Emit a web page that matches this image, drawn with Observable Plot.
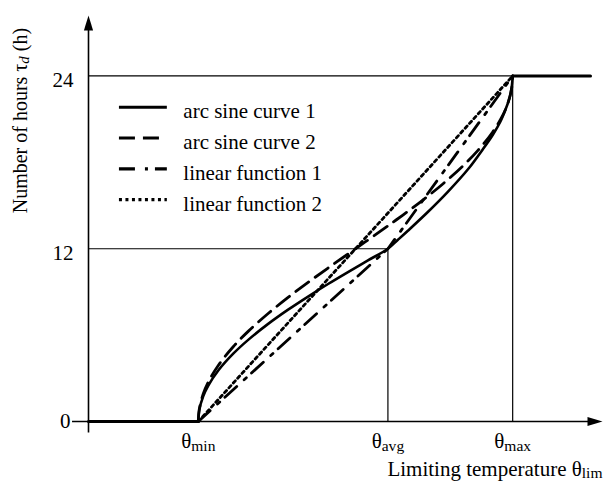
<!DOCTYPE html>
<html><head><meta charset="utf-8">
<script src="https://cdn.jsdelivr.net/npm/d3@7"></script>
<script src="https://cdn.jsdelivr.net/npm/@observablehq/plot@0.6"></script>
<style>
body{margin:0;background:#fff;}
#chart{width:604px;height:481px;}
</style></head><body><div id="chart"></div>
<script>
// ---- categories / tick labels ----
const seriesNames = ["arc sine curve 1", "arc sine curve 2", "linear function 1", "linear function 2"];
const thetaMin = 11, thetaAvg = 30, thetaMax = 42.5;
const xTickValues = [thetaMin, thetaAvg, thetaMax];
const xTickLabels = ["θ_min", "θ_avg", "θ_max"];
const yTickValues = [0, 12, 24];
const yTitle = "Number of hours τ_d (h)";
const xTitle = "Limiting temperature θ_lim";

// ---- series values ----
const arc1X = [11, 11.1, 11.5, 12, 13, 14.5, 16, 18, 20, 22, 24, 26, 28, 30, 31, 32, 34, 36, 38, 39.5, 40.5, 41.25, 41.8, 42.2, 42.4, 42.5];
const arc1T = [0, 0.79, 1.76, 2.49, 3.54, 4.71, 5.67, 6.78, 7.77, 8.68, 9.55, 10.38, 11.19, 12, 12.62, 13.25, 14.55, 15.95, 17.5, 18.9, 19.9, 20.8, 21.7, 22.5, 23.2, 24];
const arc2X = [11, 11.1, 11.5, 12, 13, 14.5, 16, 18, 20, 22, 24, 26.75, 29.5, 31.5, 33.5, 35.5, 37.5, 39, 40.5, 41.5, 42, 42.4, 42.5];
const arc2T = [0, 0.86, 1.93, 2.74, 3.89, 5.19, 6.26, 7.50, 8.62, 9.66, 10.66, 12, 13.34, 14.34, 15.38, 16.50, 17.74, 18.81, 20.11, 21.26, 22.07, 23.14, 24];
const lin1X = [11, 30, 42.5];
const lin1T = [0, 12, 24];
const lin2X = [11, 42.5];
const lin2T = [0, 24];
// common flat parts (below theta_min: 0 h, above theta_max: 24 h)
const flatLowX = [0, 11];
const flatLowT = [0, 0];
const flatHighX = [42.5, 50.3];
const flatHighT = [24, 24];

// ---- build table ----
const seriesX = [arc1X, arc2X, lin1X, lin2X];
const seriesT = [arc1T, arc2T, lin1T, lin2T];
const rows = [];
seriesNames.forEach((name, i) => seriesX[i].forEach((x, j) => rows.push({series: name, x, tau: seriesT[i][j]})));

// ---- styles ----
const dashes = [null, "16,8", "16,10,3,7", "3,3.5"];
const widths = [2.6, 2.8, 2.8, 2.8];
const curves = ["catmull-rom", "catmull-rom", "linear", "linear"];
const legendX1 = 3.1, legendX2 = 7.9, legendTextX = 9.5, legendTop = 21.83, legendStep = 2.14;

// arrowhead symbol (tip at origin, pointing up)
const arrowHead = {draw(ctx) { ctx.moveTo(0, 0); ctx.lineTo(4.6, 15); ctx.lineTo(-4.6, 15); ctx.closePath(); }};

const marks = [];
// thin guide lines
marks.push(Plot.ruleY([24], {x1: () => 0, x2: () => thetaMax, strokeWidth: 1.2}));
marks.push(Plot.ruleY([12], {x1: () => 0, x2: () => thetaAvg, strokeWidth: 1.2}));
marks.push(Plot.ruleX([thetaAvg], {y1: () => 0, y2: () => 12, strokeWidth: 1.2}));
marks.push(Plot.ruleX([thetaMax], {y1: () => 0, y2: () => 24, strokeWidth: 1.2}));
// axes lines
marks.push(Plot.ruleY([0], {x1: () => -1.6, x2: () => 50.6, strokeWidth: 1.6}));
marks.push(Plot.ruleX([0], {y1: () => -0.8, y2: () => 27.5, strokeWidth: 1.6}));
marks.push(Plot.dot([{x: 51.5, y: 0}], {x: "x", y: "y", symbol: arrowHead, rotate: 90, fill: "black", stroke: "none"}));
marks.push(Plot.dot([{x: 0, y: 28.2}], {x: "x", y: "y", symbol: arrowHead, fill: "black", stroke: "none"}));
// flat parts
marks.push(Plot.line(flatLowX.map((x, i) => ({x, tau: flatLowT[i]})), {x: "x", y: "tau", strokeWidth: 3}));
marks.push(Plot.line(flatHighX.map((x, i) => ({x, tau: flatHighT[i]})), {x: "x", y: "tau", strokeWidth: 3}));
// curves + legend
seriesNames.forEach((name, i) => {
  marks.push(Plot.line(rows.filter(r => r.series === name), {x: "x", y: "tau", stroke: "black", strokeWidth: widths[i], strokeDasharray: dashes[i], curve: curves[i]}));
  const ly = legendTop - i * legendStep;
  marks.push(Plot.ruleY([ly], {x1: () => legendX1, x2: () => legendX2, strokeWidth: widths[i] + 0.4, strokeDasharray: dashes[i]}));
});
marks.push(Plot.text(seriesNames, {x: () => legendTextX, y: (d, i) => legendTop - i * legendStep, text: d => d, textAnchor: "start", fontSize: 21, dy: 4.5}));
// axes labels
const xLabelMap = new Map(xTickValues.map((v, i) => [v, xTickLabels[i]]));
marks.push(Plot.axisX({ticks: xTickValues, tickFormat: d => xLabelMap.get(d), tickSize: 0, tickPadding: 12, fontSize: 21, label: null}));
marks.push(Plot.axisY({ticks: yTickValues.filter(v => v !== 0), tickSize: 0, tickPadding: 15, fontSize: 21, dy: 4.5, label: null}));
marks.push(Plot.axisY({ticks: yTickValues.filter(v => v === 0), tickSize: 0, tickPadding: 18, fontSize: 21, dy: 0, label: null}));
marks.push(Plot.text([yTitle], {x: () => -6.8, y: () => 20.9, text: d => d, rotate: -90, fontSize: 20}));
marks.push(Plot.text([xTitle], {x: () => 51.5, y: () => -3.3, text: d => d, textAnchor: "end", fontSize: 21}));

const plot = Plot.plot({
  width: 604, height: 481,
  marginLeft: 88, marginRight: 2, marginTop: 15, marginBottom: 60,
  x: {domain: [0, 51.5], label: null},
  y: {domain: [0, 28.2], label: null},
  style: {fontFamily: "'Liberation Serif', 'Times New Roman', serif", fontSize: "20px", background: "white", color: "black"},
  marks
});

// subscripts: "base_sub rest"
plot.querySelectorAll("text").forEach(t => {
  const s = t.textContent;
  const m = s.match(/^(.*?)_([A-Za-z]+)(.*)$/);
  if (!m) return;
  const ns = "http://www.w3.org/2000/svg";
  t.textContent = "";
  const a = document.createElementNS(ns, "tspan"); a.textContent = m[1]; t.appendChild(a);
  const b = document.createElementNS(ns, "tspan"); b.textContent = m[2];
  b.setAttribute("font-size", "0.74em"); b.setAttribute("dy", "0.16em");
  if (m[2] === "d") b.setAttribute("font-style", "italic");
  t.appendChild(b);
  if (m[3]) { const c = document.createElementNS(ns, "tspan"); c.textContent = m[3]; c.setAttribute("dy", "-0.12em"); t.appendChild(c); }
});
document.getElementById("chart").appendChild(plot);
</script></body></html>
